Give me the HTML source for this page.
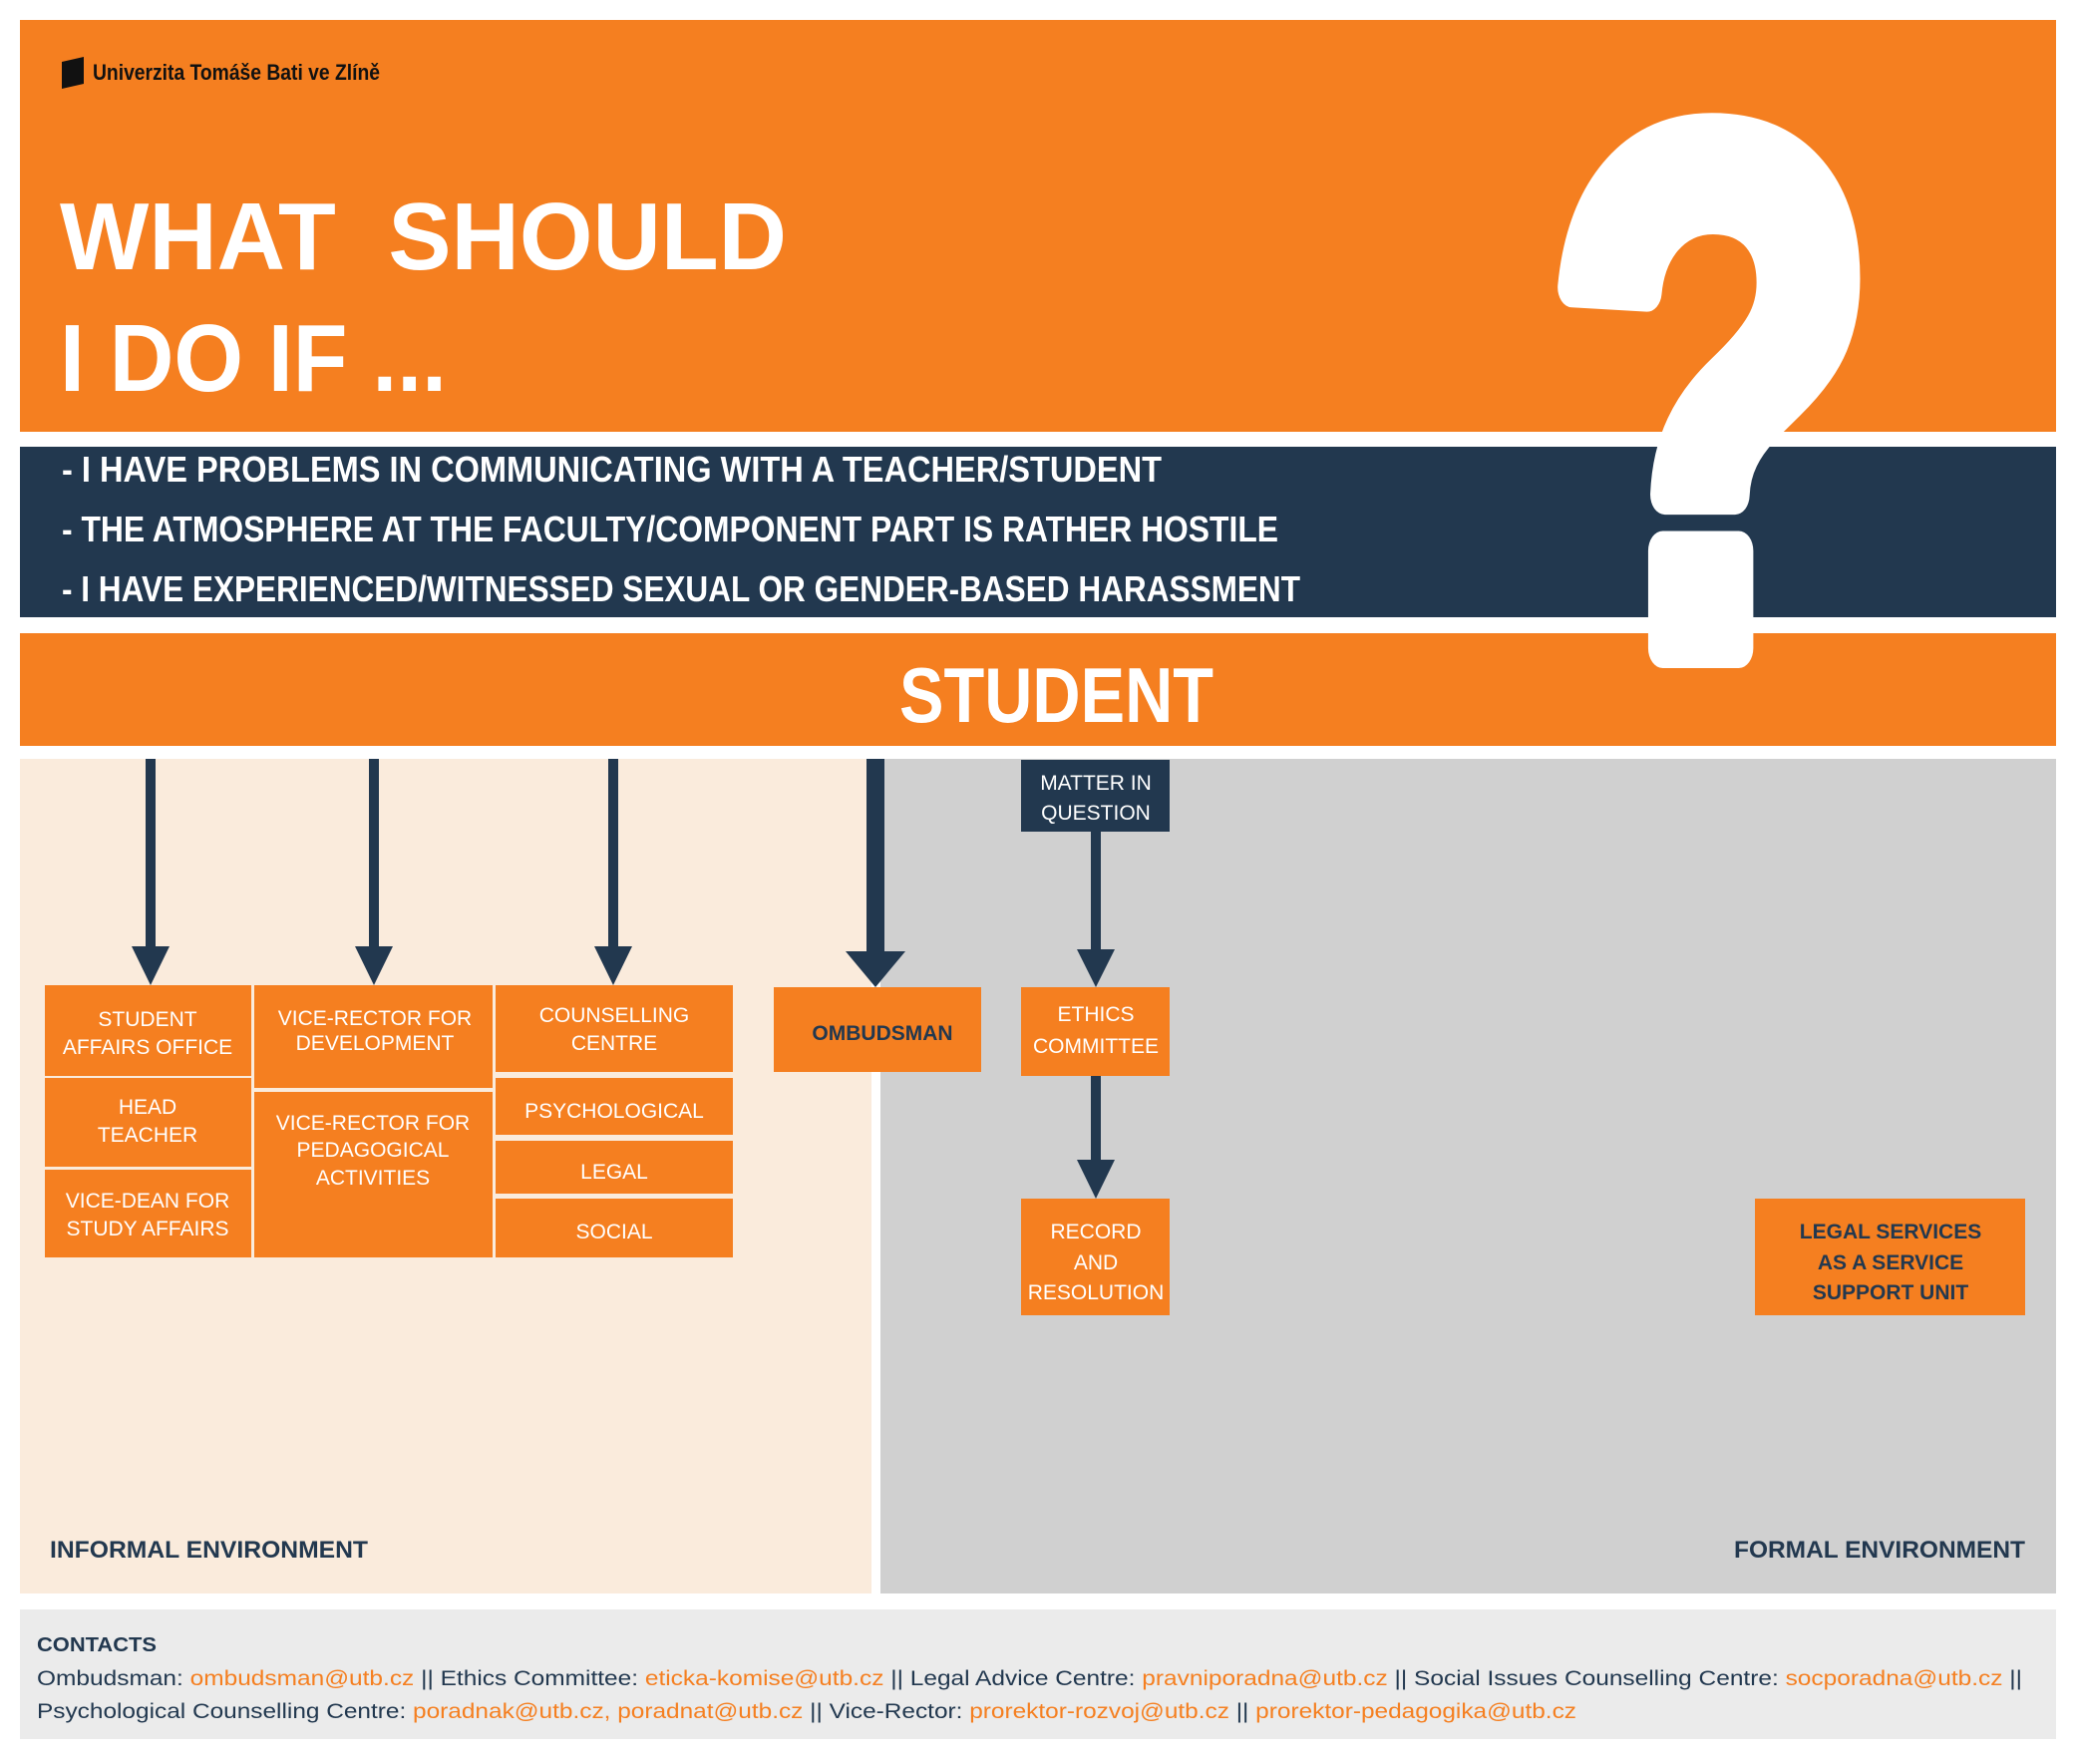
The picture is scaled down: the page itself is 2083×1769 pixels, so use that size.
<!DOCTYPE html>
<html><head><meta charset="utf-8"><style>
html,body{margin:0;padding:0;background:#fff;}
svg{display:block;}
text{font-family:"Liberation Sans",sans-serif;}
</style></head><body>
<svg width="2083" height="1769" viewBox="0 0 2083 1769" xmlns="http://www.w3.org/2000/svg">
<rect width="2083" height="1769" fill="#fff"/>
<!-- top orange -->
<rect x="20" y="20" width="2042" height="413" fill="#f57f20"/>
<rect x="20" y="448" width="2042" height="171" fill="#22384f"/>
<rect x="20" y="635" width="2042" height="113" fill="#f57f20"/>
<!-- logo -->
<path d="M62 62 L84 57 L84 84 L62 89 Z" fill="#111"/>
<text x="93" y="80" font-size="22" font-weight="bold" fill="#111" textLength="288" lengthAdjust="spacingAndGlyphs">Univerzita Tomáše Bati ve Zlíně</text>
<!-- title -->
<text x="60" y="270" font-size="96" font-weight="bold" fill="#fff" textLength="729" lengthAdjust="spacingAndGlyphs" xml:space="preserve">WHAT  SHOULD</text>
<text x="60" y="392" font-size="96" font-weight="bold" fill="#fff" textLength="388" lengthAdjust="spacingAndGlyphs">I DO IF ...</text>
<!-- question mark -->
<text x="1717" y="650" font-size="740" font-weight="bold" fill="#fff" stroke="#fff" stroke-width="40" stroke-linejoin="round" text-anchor="middle" textLength="330" lengthAdjust="spacingAndGlyphs">?</text>
<!-- navy lines -->
<text x="62" y="483" font-size="36" font-weight="bold" fill="#fff" textLength="1103" lengthAdjust="spacingAndGlyphs">- I HAVE PROBLEMS IN COMMUNICATING WITH A TEACHER/STUDENT</text>
<text x="62" y="543" font-size="36" font-weight="bold" fill="#fff" textLength="1220" lengthAdjust="spacingAndGlyphs">- THE ATMOSPHERE AT THE FACULTY/COMPONENT PART IS RATHER HOSTILE</text>
<text x="62" y="603" font-size="36" font-weight="bold" fill="#fff" textLength="1242" lengthAdjust="spacingAndGlyphs">- I HAVE EXPERIENCED/WITNESSED SEXUAL OR GENDER-BASED HARASSMENT</text>
<text x="902" y="724" font-size="78" font-weight="bold" fill="#fff" textLength="315" lengthAdjust="spacingAndGlyphs">STUDENT</text>
<!-- environments -->
<rect x="20" y="761" width="854" height="837" fill="#faebdc"/>
<rect x="883" y="761" width="1179" height="837" fill="#d0d0d0"/>
<!-- arrows -->
<g fill="#22384f">
<rect x="146" y="761" width="10" height="190"/><path d="M132 949 L170 949 L151 988 Z"/>
<rect x="370" y="761" width="10" height="190"/><path d="M356 949 L394 949 L375 988 Z"/>
<rect x="610" y="761" width="10" height="190"/><path d="M596 949 L634 949 L615 988 Z"/>
<rect x="869" y="761" width="18" height="195"/><path d="M848 954 L908 954 L878 990 Z"/>
<rect x="1094" y="834" width="10" height="120"/><path d="M1080 952 L1118 952 L1099 990 Z"/>
<rect x="1094" y="1079" width="10" height="86"/><path d="M1080 1163 L1118 1163 L1099 1202 Z"/>
</g>
<!-- boxes -->
<g fill="#f57f20">
<rect x="45" y="988" width="207" height="91"/>
<rect x="45" y="1081" width="207" height="89"/>
<rect x="45" y="1173" width="207" height="88"/>
<rect x="255" y="988" width="239" height="103"/>
<rect x="255" y="1095" width="239" height="166"/>
<rect x="497" y="988" width="238" height="87"/>
<rect x="497" y="1081" width="238" height="57"/>
<rect x="497" y="1144" width="238" height="53"/>
<rect x="497" y="1202" width="238" height="59"/>
<rect x="776" y="990" width="208" height="85"/>
<rect x="1024" y="990" width="149" height="89"/>
<rect x="1024" y="1202" width="149" height="117"/>
<rect x="1760" y="1202" width="271" height="117"/>
</g>
<rect x="1024" y="762" width="149" height="72" fill="#22384f"/>
<g font-size="21" fill="#fff" text-anchor="middle">
<text x="148" y="1029">STUDENT</text><text x="148" y="1057">AFFAIRS OFFICE</text>
<text x="148" y="1117">HEAD</text><text x="148" y="1145">TEACHER</text>
<text x="148" y="1211">VICE-DEAN FOR</text><text x="148" y="1239">STUDY AFFAIRS</text>
<text x="376" y="1028">VICE-RECTOR FOR</text><text x="376" y="1053">DEVELOPMENT</text>
<text x="374" y="1133">VICE-RECTOR FOR</text><text x="374" y="1160">PEDAGOGICAL</text><text x="374" y="1188">ACTIVITIES</text>
<text x="616" y="1025">COUNSELLING</text><text x="616" y="1053">CENTRE</text>
<text x="616" y="1121">PSYCHOLOGICAL</text>
<text x="616" y="1182">LEGAL</text>
<text x="616" y="1242">SOCIAL</text>
<text x="1099" y="792">MATTER IN</text><text x="1099" y="822">QUESTION</text>
<text x="1099" y="1024">ETHICS</text><text x="1099" y="1056">COMMITTEE</text>
<text x="1099" y="1242">RECORD</text><text x="1099" y="1273">AND</text><text x="1099" y="1303">RESOLUTION</text>
</g>
<g font-size="21" font-weight="bold" fill="#22384f" text-anchor="middle">
<text x="885" y="1043">OMBUDSMAN</text>
<text x="1896" y="1242">LEGAL SERVICES</text><text x="1896" y="1273">AS A SERVICE</text><text x="1896" y="1303">SUPPORT UNIT</text>
</g>
<text x="50" y="1562" font-size="24" font-weight="bold" fill="#22384f" textLength="319" lengthAdjust="spacingAndGlyphs">INFORMAL ENVIRONMENT</text>
<text x="1739" y="1562" font-size="24" font-weight="bold" fill="#22384f" textLength="292" lengthAdjust="spacingAndGlyphs">FORMAL ENVIRONMENT</text>
<!-- contacts -->
<rect x="20" y="1614" width="2042" height="130" fill="#ebebeb"/>
<text x="37" y="1656" font-size="20" font-weight="bold" fill="#22384f" textLength="120" lengthAdjust="spacingAndGlyphs">CONTACTS</text>
<text x="37" y="1690" font-size="21" fill="#22384f" textLength="1991" lengthAdjust="spacingAndGlyphs">Ombudsman: <tspan fill="#f57f20">ombudsman@utb.cz</tspan> || Ethics Committee: <tspan fill="#f57f20">eticka-komise@utb.cz</tspan> || Legal Advice Centre: <tspan fill="#f57f20">pravniporadna@utb.cz</tspan> || Social Issues Counselling Centre: <tspan fill="#f57f20">socporadna@utb.cz</tspan> ||</text>
<text x="37" y="1723" font-size="21" fill="#22384f" textLength="1544" lengthAdjust="spacingAndGlyphs">Psychological Counselling Centre: <tspan fill="#f57f20">poradnak@utb.cz, poradnat@utb.cz</tspan> || Vice-Rector: <tspan fill="#f57f20">prorektor-rozvoj@utb.cz</tspan> || <tspan fill="#f57f20">prorektor-pedagogika@utb.cz</tspan></text>
</svg>
</body></html>
